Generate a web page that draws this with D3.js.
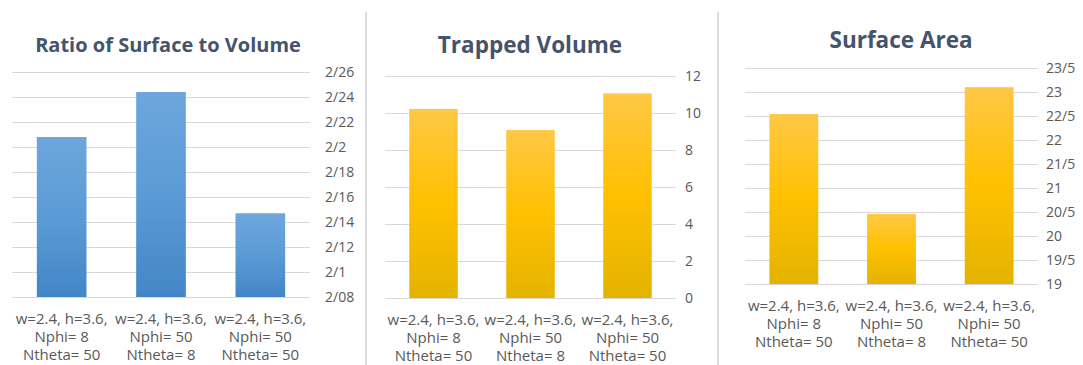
<!DOCTYPE html>
<html lang="en">
<head>
<meta charset="utf-8">
<title>Surface / Volume charts</title>
<style>
  body { margin: 0; background: #fff; }
  svg { display: block; }
  .title { font-family: "Open Sans", sans-serif; font-weight: bold; fill: #44546a; text-anchor: middle; }
  .axis text { font: 14px "Open Sans", sans-serif; fill: #595959; }
  .axis line { stroke: #d9d9d9; }
  .axis path { display: none; }
  .cat { font: 15px "Open Sans", sans-serif; fill: #595959; text-anchor: middle; }
</style>
</head>
<body>
<svg id="vis" width="1083" height="365"></svg>
<script src="https://cdn.jsdelivr.net/npm/d3@7"></script>
<script>
// categories (three label lines each)
var categories = [
  ["w=2.4, h=3.6,", "Nphi= 8", "Ntheta= 50"],
  ["w=2.4, h=3.6,", "Nphi= 50", "Ntheta= 8"],
  ["w=2.4, h=3.6,", "Nphi= 50", "Ntheta= 50"]
];

// series values
var ratioValues  = [2.208, 2.244, 2.147];
var volumeValues = [10.22, 9.08, 11.06];
var areaValues   = [22.54, 20.46, 23.10];

// tick values and their labels (as printed on the original)
var ratioTicks  = [2.08, 2.10, 2.12, 2.14, 2.16, 2.18, 2.20, 2.22, 2.24, 2.26];
var ratioLabels = ["2/08", "2/1", "2/12", "2/14", "2/16", "2/18", "2/2", "2/22", "2/24", "2/26"];
var volumeTicks  = [0, 2, 4, 6, 8, 10, 12];
var volumeLabels = ["0", "2", "4", "6", "8", "10", "12"];
var areaTicks  = [19, 19.5, 20, 20.5, 21, 21.5, 22, 22.5, 23, 23.5];
var areaLabels = ["19", "19/5", "20", "20/5", "21", "21/5", "22", "22/5", "23", "23/5"];

var svg = d3.select("#vis");

// gradients
var defs = svg.append("defs");
function gradient(id, stops) {
  var g = defs.append("linearGradient").attr("id", id)
      .attr("x1", 0).attr("y1", 0).attr("x2", 0).attr("y2", 1);
  stops.forEach(function(s) {
    g.append("stop").attr("offset", s[0]).attr("stop-color", s[1]);
  });
}
gradient("blue", [[0, "#6da6dd"], [0.5, "#5b9bd5"], [1, "#4386c7"]]);
gradient("gold", [[0, "#ffc845"], [0.5, "#ffc000"], [1, "#e3b300"]]);

// panel dividers
[366, 718].forEach(function(x) {
  svg.append("line")
    .attr("x1", x).attr("x2", x).attr("y1", 12).attr("y2", 365)
    .attr("stroke", "#dcdcdc").attr("stroke-width", 2);
});

var panels = [
  { title: "Ratio of Surface to Volume", size: 20, tx: 168, ty: 52, x0: 12, x1: 310, yTop: 72, yBot: 297,
    domain: [2.08, 2.26], ticks: ratioTicks, labels: ratioLabels, values: ratioValues, fill: "url(#blue)", pad: 15 },
  { title: "Trapped Volume", size: 22.5, tx: 530, ty: 53, x0: 385, x1: 676, yTop: 76, yBot: 298,
    domain: [0, 12], ticks: volumeTicks, labels: volumeLabels, values: volumeValues, fill: "url(#gold)", pad: 9 },
  { title: "Surface Area", size: 22.5, tx: 901, ty: 48, x0: 745, x1: 1038, yTop: 68, yBot: 284,
    domain: [19, 23.5], ticks: areaTicks, labels: areaLabels, values: areaValues, fill: "url(#gold)", pad: 8 }
];

panels.forEach(function(p) {
  var g = svg.append("g");

  var x = d3.scaleBand()
      .domain(d3.range(categories.length))
      .range([p.x0, p.x1])
      .paddingInner(0.5)
      .paddingOuter(0.25);

  var y = d3.scaleLinear().domain(p.domain).range([p.yBot, p.yTop]);

  g.append("text").attr("class", "title")
    .attr("x", p.tx).attr("y", p.ty)
    .style("font-size", p.size + "px")
    .text(p.title);

  // right axis, tick lines stretched to the left as gridlines
  g.append("g").attr("class", "axis")
    .attr("transform", "translate(" + p.x1 + ",0)")
    .call(d3.axisRight(y)
      .tickValues(p.ticks)
      .tickSize(-(p.x1 - p.x0))
      .tickPadding(p.pad)
      .tickFormat(function(d, i) { return p.labels[i]; }));

  g.selectAll("rect.bar")
    .data(p.values)
    .enter().append("rect")
      .attr("class", "bar")
      .attr("x", function(d, i) { return x(i); })
      .attr("width", x.bandwidth())
      .attr("y", function(d) { return y(d); })
      .attr("height", function(d) { return p.yBot - y(d); })
      .attr("fill", p.fill);

  // category labels
  var cat = g.selectAll("text.cat")
    .data(categories)
    .enter().append("text")
      .attr("class", "cat")
      .attr("x", function(d, i) { return x(i) + x.bandwidth() / 2; })
      .attr("y", p.yBot + 27);
  cat.selectAll("tspan")
    .data(function(d) { return d; })
    .enter().append("tspan")
      .attr("x", function() { return this.parentNode.getAttribute("x"); })
      .attr("dy", function(d, i) { return i === 0 ? 0 : 18; })
      .text(function(d) { return d; });
});
</script>
</body>
</html>
